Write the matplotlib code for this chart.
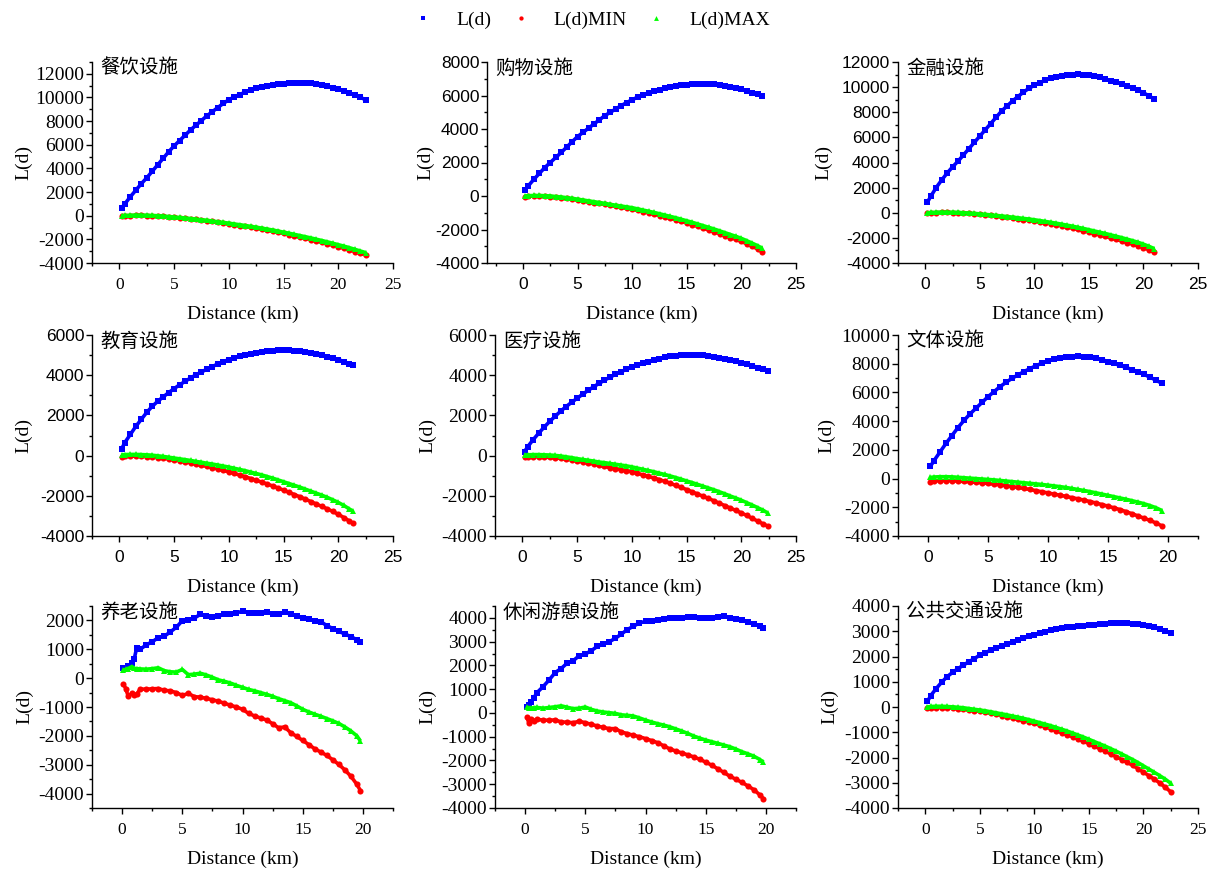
import matplotlib
matplotlib.use("Agg")
import matplotlib.pyplot as plt
from matplotlib.ticker import MultipleLocator

# ---- data (distance in km, L(d) values) ----
titles = ["餐饮设施", "购物设施", "金融设施",
          "教育设施", "医疗设施", "文体设施",
          "养老设施", "休闲游憩设施", "公共交通设施"]

x1 = [0.2, 0.5, 1.0, 1.5, 2.0, 2.5, 3.0, 3.5, 4.0, 4.5, 5.0, 5.5, 6.0, 6.5, 7.0, 7.5, 8.0, 8.5, 9.0, 9.5,
      10.0, 10.5, 11.0, 11.5, 12.0, 12.5, 13.0, 13.5, 14.0, 14.5, 15.0, 15.5, 16.0, 16.5, 17.0, 17.5,
      18.0, 18.5, 19.0, 19.5, 20.0, 20.5, 21.0, 21.5, 22.0, 22.5]
b1 = [650, 1000, 1600, 2150, 2700, 3200, 3750, 4300, 4850, 5400, 5900, 6350, 6800, 7250, 7650, 8050,
      8450, 8800, 9150, 9500, 9800, 10050, 10250, 10450, 10650, 10800, 10900, 11000, 11080, 11120,
      11170, 11220, 11250, 11250, 11230, 11200, 11130, 11050, 10950, 10830, 10700, 10550, 10400,
      10200, 10000, 9820]
r1 = [-40, -10, 10, 20, 20, 10, -10, -30, -60, -100, -140, -180, -220, -270, -320, -380, -430, -490,
      -560, -620, -690, -760, -830, -900, -980, -1050, -1140, -1220, -1310, -1400, -1490, -1590,
      -1690, -1800, -1910, -2020, -2140, -2250, -2370, -2500, -2620, -2760, -2890, -3030, -3180, -3330]
g1 = [0, 20, 40, 50, 50, 40, 20, 0, -30, -70, -110, -150, -190, -240, -290, -340, -390, -450, -510,
      -570, -630, -700, -760, -830, -900, -970, -1050, -1130, -1210, -1300, -1390, -1480, -1580,
      -1680, -1780, -1880, -1990, -2100, -2210, -2330, -2450, -2570, -2700, -2840, -2980, -3120]

x2 = [0.2, 0.5, 1.0, 1.5, 2.0, 2.5, 3.0, 3.5, 4.0, 4.5, 5.0, 5.5, 6.0, 6.5, 7.0, 7.5, 8.0, 8.5, 9.0, 9.5,
      10.0, 10.5, 11.0, 11.5, 12.0, 12.5, 13.0, 13.5, 14.0, 14.5, 15.0, 15.5, 16.0, 16.5, 17.0, 17.5,
      18.0, 18.5, 19.0, 19.5, 20.0, 20.5, 21.0, 21.5, 21.9]
b2 = [380, 620, 1000, 1350, 1700, 2000, 2300, 2600, 2920, 3240, 3550, 3800, 4050, 4300, 4550, 4800,
      5000, 5200, 5400, 5580, 5750, 5900, 6040, 6160, 6260, 6350, 6430, 6500, 6560, 6610, 6650, 6680,
      6700, 6710, 6700, 6680, 6640, 6590, 6520, 6450, 6360, 6260, 6160, 6060, 5980]
r2 = [-30, -10, 0, 0, -10, -30, -60, -100, -140, -180, -230, -280, -340, -390, -440, -500, -560, -620,
      -670, -730, -780, -860, -930, -1010, -1080, -1170, -1250, -1340, -1420, -1520, -1610, -1710,
      -1820, -1930, -2030, -2140, -2250, -2370, -2480, -2590, -2710, -2860, -3010, -3170, -3320]
g2 = [0, 20, 30, 30, 20, 0, -30, -60, -100, -140, -190, -240, -290, -340, -390, -440, -500, -550,
      -600, -650, -700, -770, -840, -910, -980, -1060, -1140, -1220, -1300, -1390, -1480, -1570,
      -1670, -1770, -1870, -1970, -2080, -2190, -2300, -2410, -2530, -2670, -2820, -2970, -3120]

x3 = [0.2, 0.5, 1.0, 1.5, 2.0, 2.5, 3.0, 3.5, 4.0, 4.5, 5.0, 5.5, 6.0, 6.5, 7.0, 7.5, 8.0, 8.5, 9.0, 9.5,
      10.0, 10.5, 11.0, 11.5, 12.0, 12.5, 13.0, 13.5, 14.0, 14.5, 15.0, 15.5, 16.0, 16.5, 17.0, 17.5,
      18.0, 18.5, 19.0, 19.5, 20.0, 20.5, 21.0]
b3 = [850, 1300, 2000, 2600, 3150, 3650, 4100, 4600, 5100, 5600, 6100, 6600, 7100, 7600, 8100, 8500,
      8900, 9250, 9600, 9900, 10150, 10350, 10550, 10700, 10800, 10880, 10950, 11000, 11020, 11000,
      10950, 10870, 10770, 10650, 10520, 10380, 10260, 10100, 9930, 9750, 9550, 9300, 9050]
r3 = [-30, -10, 10, 20, 20, 10, 0, -30, -50, -90, -120, -170, -210, -260, -320, -370, -430, -490,
      -540, -600, -660, -730, -800, -880, -960, -1050, -1140, -1230, -1330, -1430, -1550, -1660,
      -1770, -1880, -2000, -2120, -2240, -2370, -2500, -2630, -2770, -2950, -3160]
g3 = [0, 20, 40, 50, 50, 40, 30, 0, -20, -50, -90, -130, -170, -210, -260, -300, -350, -400, -450,
      -500, -560, -620, -690, -760, -830, -910, -990, -1070, -1160, -1250, -1350, -1450, -1550,
      -1650, -1760, -1870, -1980, -2100, -2220, -2350, -2500, -2670, -2860]

x4 = [0.2, 0.5, 1.0, 1.5, 2.0, 2.5, 3.0, 3.5, 4.0, 4.5, 5.0, 5.5, 6.0, 6.5, 7.0, 7.5, 8.0, 8.5, 9.0, 9.5,
      10.0, 10.5, 11.0, 11.5, 12.0, 12.5, 13.0, 13.5, 14.0, 14.5, 15.0, 15.5, 16.0, 16.5, 17.0, 17.5,
      18.0, 18.5, 19.0, 19.5, 20.0, 20.5, 21.0, 21.3]
b4 = [330, 650, 1050, 1450, 1800, 2150, 2450, 2700, 2920, 3130, 3330, 3520, 3690, 3860, 4020, 4160,
      4300, 4430, 4560, 4670, 4780, 4870, 4950, 5020, 5070, 5120, 5160, 5190, 5220, 5230, 5240, 5230,
      5210, 5180, 5140, 5100, 5050, 4990, 4930, 4860, 4780, 4680, 4570, 4490]
r4 = [-50, -40, -30, -30, -40, -50, -70, -100, -130, -170, -210, -260, -310, -360, -420, -480, -540,
      -600, -670, -740, -810, -890, -970, -1050, -1140, -1230, -1320, -1410, -1510, -1610, -1720,
      -1830, -1940, -2050, -2170, -2290, -2410, -2530, -2650, -2780, -2920, -3080, -3250, -3350]
g4 = [30, 50, 60, 60, 50, 40, 20, -10, -40, -80, -120, -160, -200, -240, -290, -330, -380, -420, -470,
      -520, -570, -630, -690, -750, -820, -890, -960, -1040, -1120, -1210, -1300, -1390, -1480, -1570,
      -1670, -1770, -1870, -1970, -2080, -2200, -2330, -2480, -2650, -2750]

x5 = [0.2, 0.5, 1.0, 1.5, 2.0, 2.5, 3.0, 3.5, 4.0, 4.5, 5.0, 5.5, 6.0, 6.5, 7.0, 7.5, 8.0, 8.5, 9.0, 9.5,
      10.0, 10.5, 11.0, 11.5, 12.0, 12.5, 13.0, 13.5, 14.0, 14.5, 15.0, 15.5, 16.0, 16.5, 17.0, 17.5,
      18.0, 18.5, 19.0, 19.5, 20.0, 20.5, 21.0, 21.5, 22.0, 22.4]
b5 = [200, 450, 800, 1120, 1420, 1700, 1960, 2210, 2440, 2650, 2850, 3050, 3240, 3420, 3590, 3750,
      3900, 4040, 4170, 4290, 4400, 4500, 4590, 4680, 4760, 4830, 4890, 4940, 4980, 5010, 5020, 5020,
      5010, 4990, 4960, 4930, 4880, 4820, 4760, 4700, 4630, 4550, 4470, 4380, 4300, 4230]
r5 = [-60, -55, -50, -60, -70, -90, -110, -140, -180, -220, -270, -320, -370, -420, -480, -540, -600,
      -650, -700, -750, -810, -880, -960, -1030, -1110, -1190, -1280, -1380, -1480, -1580, -1690,
      -1800, -1910, -2020, -2130, -2250, -2370, -2490, -2610, -2730, -2850, -2980, -3120, -3260,
      -3400, -3500]
g5 = [20, 40, 50, 50, 40, 30, 10, -20, -60, -100, -150, -190, -230, -270, -320, -350, -390, -430,
      -470, -510, -560, -620, -680, -740, -800, -870, -940, -1010, -1090, -1170, -1260, -1340, -1430,
      -1520, -1610, -1700, -1800, -1900, -2010, -2110, -2220, -2340, -2460, -2590, -2720, -2850]

x6 = [0.2, 0.5, 1.0, 1.5, 2.0, 2.5, 3.0, 3.5, 4.0, 4.5, 5.0, 5.5, 6.0, 6.5, 7.0, 7.5, 8.0, 8.5, 9.0, 9.5,
      10.0, 10.5, 11.0, 11.5, 12.0, 12.5, 13.0, 13.5, 14.0, 14.5, 15.0, 15.5, 16.0, 16.5, 17.0, 17.5,
      18.0, 18.5, 19.0, 19.5]
b6 = [850, 1250, 1850, 2450, 3000, 3550, 4050, 4500, 4900, 5300, 5700, 6050, 6400, 6700, 6980, 7220,
      7450, 7660, 7860, 8040, 8200, 8300, 8380, 8440, 8490, 8520, 8500, 8450, 8380, 8280, 8150, 8020,
      7880, 7740, 7590, 7430, 7260, 7060, 6850, 6630]
r6 = [-230, -170, -150, -150, -160, -180, -200, -230, -260, -300, -340, -390, -440, -500, -560, -620,
      -690, -760, -840, -920, -1000, -1080, -1160, -1240, -1330, -1410, -1500, -1600, -1700, -1810,
      -1920, -2040, -2160, -2300, -2450, -2600, -2760, -2920, -3090, -3300]
g6 = [80, 110, 130, 130, 120, 90, 60, 30, 0, -30, -60, -90, -130, -170, -210, -250, -290, -330, -370,
      -410, -460, -510, -560, -620, -690, -760, -830, -910, -990, -1080, -1170, -1260, -1350, -1440,
      -1540, -1640, -1750, -1880, -2030, -2230]

x7 = [0.1, 0.3, 0.5, 0.8, 1.0, 1.2, 1.5, 2.0, 2.5, 3.0, 3.5, 4.0, 4.5, 5.0, 5.5, 6.0, 6.5, 7.0, 7.5,
      8.0, 8.5, 9.0, 9.5, 10.0, 10.5, 11.0, 11.5, 12.0, 12.5, 13.0, 13.5, 14.0, 14.5, 15.0, 15.5,
      16.0, 16.5, 17.0, 17.5, 18.0, 18.5, 19.0, 19.5, 19.8]
b7 = [350, 360, 420, 520, 650, 1030, 1000, 1150, 1260, 1400, 1450, 1600, 1760, 1990, 2010, 2080,
      2210, 2170, 2130, 2150, 2210, 2230, 2270, 2310, 2270, 2250, 2260, 2290, 2240, 2210, 2280, 2220,
      2150, 2090, 2040, 1990, 1960, 1820, 1720, 1620, 1530, 1440, 1330, 1240]
r7 = [-190, -360, -620, -530, -590, -560, -380, -380, -370, -360, -420, -440, -500, -600, -530, -640,
      -660, -700, -750, -800, -870, -940, -1000, -1080, -1220, -1310, -1380, -1450, -1580, -1720,
      -1690, -1890, -2020, -2160, -2300, -2450, -2560, -2680, -2830, -2990, -3180, -3400, -3680, -3900]
g7 = [280, 300, 330, 400, 340, 330, 320, 310, 330, 360, 260, 220, 210, 300, 120, 140, 170, 110, 30,
      -60, -110, -170, -250, -320, -390, -440, -500, -560, -630, -710, -780, -850, -960, -1080, -1170,
      -1250, -1320, -1400, -1480, -1570, -1690, -1830, -2000, -2180]

x8 = [0.15, 0.3, 0.5, 0.7, 1.0, 1.5, 2.0, 2.5, 3.0, 3.5, 4.0, 4.5, 5.0, 5.5, 6.0, 6.5, 7.0, 7.5, 8.0,
      8.5, 9.0, 9.5, 10.0, 10.5, 11.0, 11.5, 12.0, 12.5, 13.0, 13.5, 14.0, 14.5, 15.0, 15.5, 16.0,
      16.5, 17.0, 17.5, 18.0, 18.5, 19.0, 19.5, 19.8]
b8 = [270, 330, 440, 620, 860, 1110, 1390, 1700, 1870, 2100, 2200, 2410, 2480, 2620, 2800, 2900, 3000,
      3140, 3320, 3510, 3650, 3790, 3850, 3880, 3890, 3940, 3990, 4000, 4000, 4020, 4030, 4010, 4000,
      4010, 4030, 4080, 4000, 3960, 3890, 3830, 3750, 3660, 3580]
r8 = [-170, -410, -270, -330, -270, -300, -310, -290, -380, -390, -410, -350, -410, -480, -550, -610,
      -660, -660, -800, -870, -940, -1000, -1080, -1160, -1250, -1380, -1510, -1600, -1680, -1760,
      -1850, -1950, -2070, -2200, -2350, -2500, -2660, -2790, -2920, -3070, -3230, -3450, -3610]
g8 = [230, 210, 200, 220, 230, 200, 230, 260, 300, 240, 180, 200, 250, 150, 80, 40, 10, -20, -80, -100,
      -130, -210, -300, -380, -450, -510, -580, -670, -760, -860, -970, -1060, -1140, -1210, -1280,
      -1350, -1420, -1520, -1630, -1720, -1820, -1960, -2070]

x9 = [0.2, 0.5, 1.0, 1.5, 2.0, 2.5, 3.0, 3.5, 4.0, 4.5, 5.0, 5.5, 6.0, 6.5, 7.0, 7.5, 8.0, 8.5, 9.0, 9.5,
      10.0, 10.5, 11.0, 11.5, 12.0, 12.5, 13.0, 13.5, 14.0, 14.5, 15.0, 15.5, 16.0, 16.5, 17.0, 17.5,
      18.0, 18.5, 19.0, 19.5, 20.0, 20.5, 21.0, 21.5, 22.0, 22.5]
b9 = [220, 450, 730, 980, 1200, 1370, 1520, 1660, 1790, 1920, 2050, 2150, 2250, 2340, 2420, 2500,
      2580, 2650, 2720, 2800, 2870, 2930, 2980, 3030, 3080, 3120, 3150, 3170, 3190, 3220, 3240, 3260,
      3280, 3300, 3310, 3320, 3320, 3310, 3290, 3270, 3240, 3200, 3150, 3090, 3020, 2920]
r9 = [-40, -30, -20, -20, -30, -40, -60, -80, -110, -140, -170, -210, -250, -290, -340, -390, -440,
      -490, -540, -590, -650, -720, -790, -860, -940, -1020, -1100, -1180, -1270, -1360, -1450, -1550,
      -1650, -1750, -1860, -1970, -2080, -2190, -2310, -2440, -2580, -2720, -2860, -3010, -3180, -3360]
g9 = [0, 20, 30, 30, 20, 5, -10, -30, -60, -90, -120, -150, -190, -230, -270, -310, -360, -400, -450,
      -500, -560, -620, -680, -740, -810, -880, -950, -1030, -1110, -1190, -1280, -1370, -1460, -1550,
      -1650, -1750, -1860, -1970, -2080, -2200, -2330, -2460, -2590, -2720, -2860, -3020]

panels = [(x1, b1, r1, g1), (x2, b2, r2, g2), (x3, b3, r3, g3),
          (x4, b4, r4, g4), (x5, b5, r5, g5), (x6, b6, r6, g6),
          (x7, b7, r7, g7), (x8, b8, r8, g8), (x9, b9, r9, g9)]

ylims = [(-4000, 13000), (-4000, 8000), (-4000, 12000),
         (-4000, 6000), (-4000, 6000), (-4000, 10000),
         (-4500, 2500), (-4000, 4500), (-4000, 4000)]
ysteps = [2000, 2000, 2000, 2000, 2000, 2000, 1000, 1000, 1000]
xlims = [(-2.5, 25), (-3.3, 25), (-2.5, 25),
         (-2.5, 25), (-2.5, 25), (-2.5, 22.5),
         (-2.5, 22.5), (-2.5, 22.5), (-2.5, 25)]
SERIF = "Liberation Serif"
SANS = "Liberation Sans"
yfonts = [SERIF, SANS, SANS, SANS, SERIF, SERIF, SERIF, SERIF, SERIF]
xfonts = [SERIF, SANS, SANS, SANS, SANS, SANS, SERIF, SERIF, SERIF]

# axes boxes in pixels (left, right, top, bottom) of the 1215x874 canvas
W, H = 1215, 874
lefts = [92, 487, 898, 92, 495, 898, 92, 495, 898]
rights = [393, 796, 1198]
tops = [62, 335, 606]
bottoms = [263, 536, 808]
ylab_off = [70, 63, 76, 70, 69, 73, 69, 69, 70]

plt.rcParams["font.family"] = [SERIF, "Noto Sans CJK SC"]
plt.rcParams["axes.unicode_minus"] = False

fig = plt.figure(figsize=(W / 100, H / 100), dpi=100)

styles = [("s", 4.2, "#0000ff"), ("o", 4.4, "#ff0000"), ("^", 5.0, "#00ff00")]

handles = []
for i, series in enumerate(panels):
    row, col = divmod(i, 3)
    l, r = lefts[i], rights[col]
    t, b = tops[row], bottoms[row]
    w_px, h_px = r - l, b - t
    ax = fig.add_axes([l / W, 1 - b / H, w_px / W, h_px / H])

    xs = series[0]
    for ys, (mk, ms, colr) in zip(series[1:], styles):
        # dense points in the original read as a continuous band
        ax.plot(xs, ys, ls="-", lw=2.6, color=colr, solid_capstyle="butt")
        h, = ax.plot(xs, ys, ls="none", marker=mk, ms=ms, mew=0, color=colr)
        if i == 0:
            handles.append(h)

    ax.set_xlim(*xlims[i])
    ax.set_ylim(*ylims[i])
    ax.xaxis.set_major_locator(MultipleLocator(5))
    ax.xaxis.set_minor_locator(MultipleLocator(2.5))
    ax.yaxis.set_major_locator(MultipleLocator(ysteps[i]))
    ax.yaxis.set_minor_locator(MultipleLocator(ysteps[i] / 2))

    for side in ("top", "right"):
        ax.spines[side].set_visible(False)
    for side in ("left", "bottom"):
        ax.spines[side].set_linewidth(1.0)
    ax.tick_params(which="major", direction="out", length=4, width=1.0)
    ax.tick_params(which="minor", direction="out", length=2.5, width=1.0)
    ax.tick_params(axis="y", pad=1.5)
    ax.tick_params(axis="x", pad=6)

    ysz = 14 if yfonts[i] == SERIF else 12.5
    xsz = 12.5
    for lab in ax.get_yticklabels():
        lab.set_fontfamily(yfonts[i])
        lab.set_fontsize(ysz)
    for lab in ax.get_xticklabels():
        lab.set_fontfamily(xfonts[i])
        lab.set_fontsize(xsz)

    ax.set_xlabel("Distance (km)", fontsize=14, family=SERIF)
    ax.set_ylabel("L(d)", fontsize=14, family=SERIF)
    ax.xaxis.set_label_coords(0.5, -43 / h_px)
    ax.yaxis.set_label_coords(-(ylab_off[i] - 10) / w_px, 0.5)

    ax.text(8 / w_px, 1 - 6 / h_px, titles[i], transform=ax.transAxes,
            ha="left", va="center", fontsize=14, family=["Noto Sans CJK SC"])

fig.legend(handles, ["L(d)", "L(d)MIN", "L(d)MAX"], loc="center",
           bbox_to_anchor=(0.487, 0.977), ncol=3, frameon=False,
           prop={"family": SERIF, "size": 14}, handlelength=1.0,
           handletextpad=1.2, columnspacing=1.0, markerscale=0.7)

fig.savefig("out.png", dpi=100)
